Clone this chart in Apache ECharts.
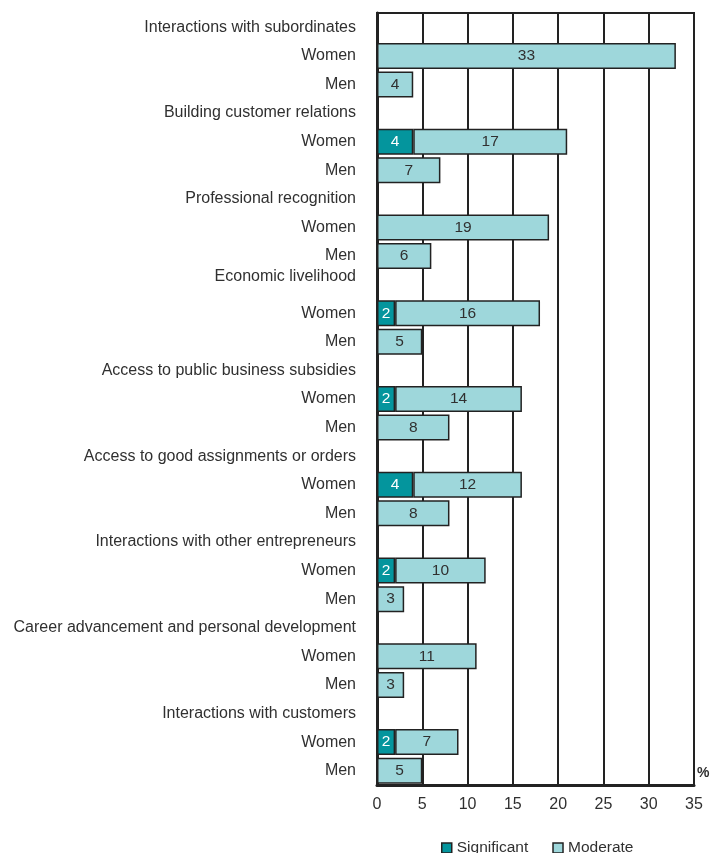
<!DOCTYPE html>
<html>
<head>
<meta charset="utf-8">
<script src="https://cdn.jsdelivr.net/npm/echarts@6/dist/echarts.min.js"></script>
<style>
  html, body { margin: 0; padding: 0; background: #fff; overflow: hidden; }
  #chart { width: 710px; height: 853px; }
</style>
</head>
<body>
<div id="chart"></div>
<script>
// Topics, each followed by a Women row and a Men row
const groups = [
  'Interactions with subordinates',
  'Building customer relations',
  'Professional recognition',
  'Economic livelihood',
  'Access to public business subsidies',
  'Access to good assignments or orders',
  'Interactions with other entrepreneurs',
  'Career advancement and personal development',
  'Interactions with customers'
];
const rowNames = ['Women', 'Men'];

// Share (%) reporting a significant / moderate effect, per group: [Women, Men]
const significant = [
  [0, 0], [4, 0], [0, 0], [2, 0], [2, 0], [4, 0], [2, 0], [0, 0], [2, 0]
];
const moderate = [
  [33, 4], [17, 7], [19, 6], [16, 5], [14, 8], [12, 8], [10, 3], [11, 3], [7, 5]
];

const xTicks = { min: 0, max: 35, interval: 5 };

const textColor = '#303030';
const lineColor = '#222';
const darkTeal = '#04959d';
const lightTeal = '#9ed7db';
const fontFamily = "'Liberation Sans', Arial, sans-serif";
const fs = 16;
const barFs = 15.5;

// Build the category rows: header row, then Women and Men
const categories = [];
const sigData = [];
const modData = [];
groups.forEach((g, gi) => {
  categories.push(g);
  sigData.push(null);
  modData.push(null);
  rowNames.forEach((r, ri) => {
    categories.push(r);
    const s = significant[gi][ri];
    sigData.push(s > 0 ? s : null);
    modData.push(moderate[gi][ri]);
  });
});

const chart = echarts.init(document.getElementById('chart'), null, { renderer: 'canvas' });

chart.setOption({
  animation: false,
  backgroundColor: '#fff',
  textStyle: { fontFamily: fontFamily },
  grid: {
    left: 377, right: 16, top: 13, bottom: 68,
    show: true, borderColor: lineColor, borderWidth: 2,
    containLabel: false,
    outerBoundsMode: 'none'
  },
  legend: {
    left: 436, top: 835,
    itemWidth: 10, itemHeight: 10, itemGap: 24,
    icon: 'rect',
    textStyle: { fontSize: 15.5, color: textColor, fontFamily: fontFamily },
    itemStyle: { borderColor: lineColor, borderWidth: 1.5 },
    data: ['Significant', 'Moderate']
  },
  xAxis: {
    type: 'value',
    min: xTicks.min, max: xTicks.max, interval: xTicks.interval,
    name: '%',
    nameLocation: 'end',
    nameGap: 3,
    nameTextStyle: {
      fontSize: 14, fontWeight: 'bold', color: textColor, fontFamily: fontFamily,
      verticalAlign: 'bottom', align: 'left', padding: [0, 0, 5, 0]
    },
    axisLine: { show: true, lineStyle: { color: lineColor, width: 3 } },
    axisTick: { show: false },
    axisLabel: { fontSize: fs, color: textColor, margin: 12, fontFamily: fontFamily },
    splitLine: { show: true, lineStyle: { color: lineColor, width: 2 } }
  },
  yAxis: {
    type: 'category',
    inverse: true,
    data: categories,
    axisLine: { show: true, lineStyle: { color: lineColor, width: 3 } },
    axisTick: { show: false },
    axisLabel: {
      interval: 0, fontSize: fs, color: textColor, margin: 21, fontFamily: fontFamily,
      // "Economic livelihood" sits a little higher than the other headers
      formatter: v => (v === 'Economic livelihood' ? '{up|' + v + '}' : v),
      rich: {
        up: { fontSize: fs, color: textColor, fontFamily: fontFamily, padding: [0, 0, 16, 0] }
      }
    },
    splitLine: { show: false }
  },
  series: [
    {
      name: 'Significant',
      type: 'bar',
      stack: 'share',
      barWidth: 26,
      data: sigData,
      itemStyle: { color: darkTeal, borderColor: lineColor, borderWidth: 1.5 },
      label: {
        show: true, position: 'inside', color: '#fff', fontSize: barFs, fontFamily: fontFamily,
        formatter: p => (p.value ? p.value : '')
      }
    },
    {
      name: 'Moderate',
      type: 'bar',
      stack: 'share',
      barWidth: 26,
      data: modData,
      itemStyle: { color: lightTeal, borderColor: lineColor, borderWidth: 1.5 },
      label: {
        show: true, position: 'inside', color: textColor, fontSize: barFs, fontFamily: fontFamily,
        formatter: p => (p.value ? p.value : '')
      }
    }
  ]
});
</script>
</body>
</html>
